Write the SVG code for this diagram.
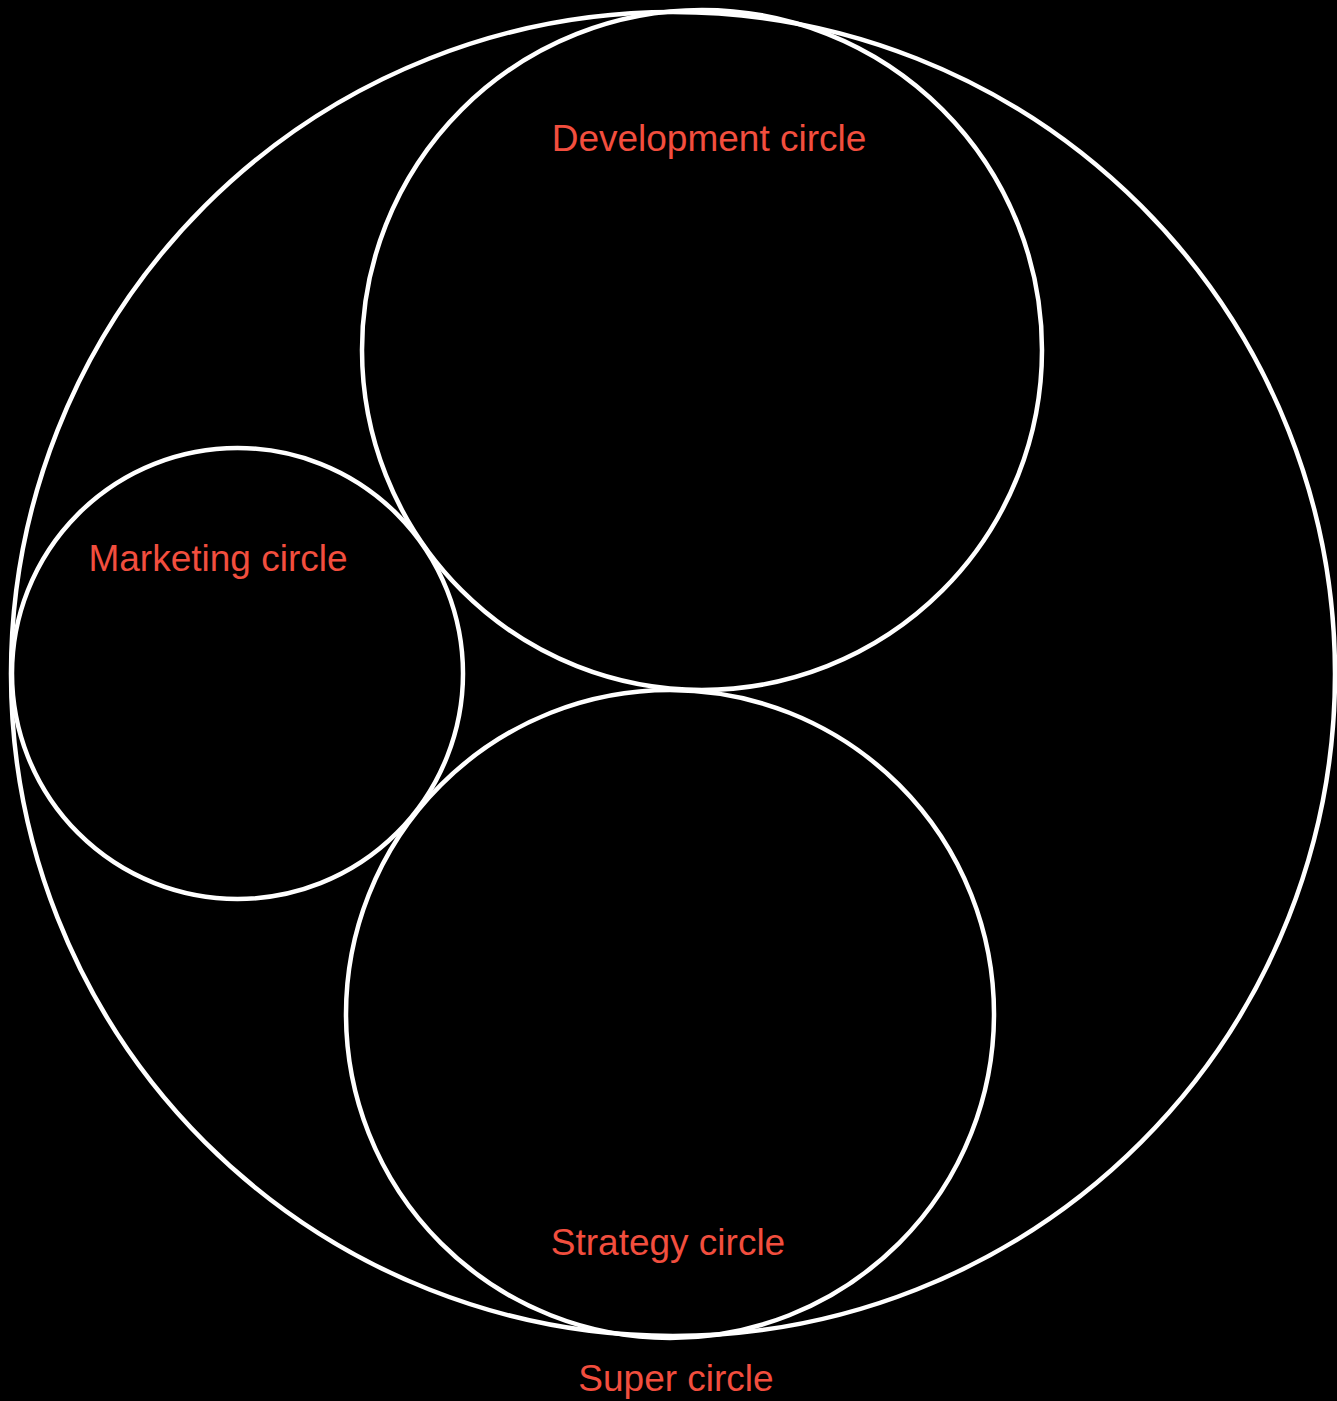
<svg xmlns="http://www.w3.org/2000/svg" width="1337" height="1401" viewBox="0 0 1337 1401">
<style>
.c{fill:none;stroke:#fff;stroke-width:4.5}
.t{fill:#f24e3e;font-family:"Liberation Sans",Arial,sans-serif;font-size:37px;text-anchor:middle}
</style>
<rect width="1337" height="1401" fill="#000"/>
<g id="super"><circle class="c" cx="673" cy="674" r="662"/><text class="t" x="676" y="1391">Super circle</text></g>
<g id="development"><circle class="c" cx="702" cy="350" r="340"/><text class="t" x="709" y="151">Development circle</text></g>
<g id="marketing"><circle class="c" cx="237.5" cy="673.5" r="225.5"/><text class="t" x="218" y="571">Marketing circle</text></g>
<g id="strategy"><circle class="c" cx="670" cy="1014" r="324"/><text class="t" x="668" y="1255">Strategy circle</text></g>
<g id="connectors"></g>
</svg>
